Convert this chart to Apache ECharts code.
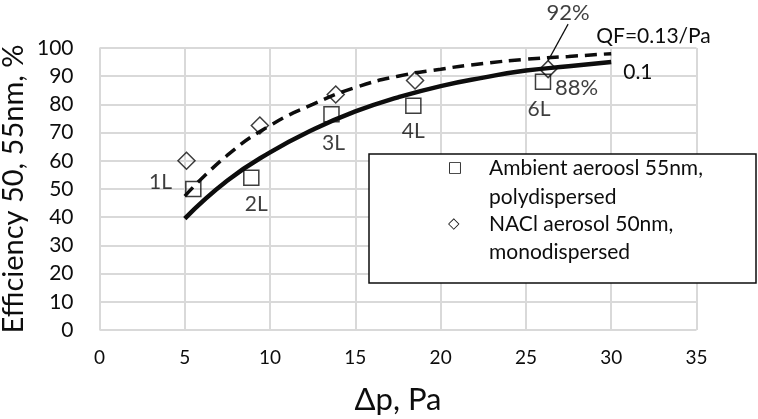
<!DOCTYPE html>
<html>
<head>
<meta charset="utf-8">
<script src="https://cdn.jsdelivr.net/npm/echarts@6/dist/echarts.min.js"></script>
<style>
html,body{margin:0;padding:0;background:#fff;}
#chart{width:758px;height:419px;}
</style>
</head>
<body>
<div id="chart"></div>
<script>
// ---- data ----
const ambientName = 'Ambient aeroosl 55nm, polydispersed';
const naclName = 'NACl aerosol 50nm, monodispersed';
const ambientX = [5.5, 8.9, 13.6, 18.4, 26.0];
const ambientY = [50, 54, 76.5, 79.5, 88];
const ambientLabels = ['1L', '2L', '3L', '4L', '6L'];
const naclX = [5.1, 9.4, 13.85, 18.5, 26.3];
const naclY = [60, 72.5, 83.5, 88.5, 92.5];
const curveX = [5, 7.5, 10, 12.5, 15, 17.5, 20, 22.5, 25, 27.5, 30];
const solidY = [39.5, 53, 63, 71, 77.5, 82.5, 86.5, 89.5, 92, 93.5, 95];
const dashedY = [47.5, 62, 72.5, 80, 86, 90, 92.5, 94.5, 96, 97, 98];
const xTicks = [0, 5, 10, 15, 20, 25, 30, 35];
const yTicks = [0, 10, 20, 30, 40, 50, 60, 70, 80, 90, 100];
const solidTag = '0.1';
const dashedTag = 'QF=0.13/Pa';
const ambientNote = '88%';
const naclNote = '92%';

const FONT = 'Lato';
const INK = '#0d0d0d';

const zip = (xs, ys) => xs.map((x, i) => [x, ys[i]]);

const labelTweaks = [
  {position: 'left', distance: 13, offset: [0, -7]},
  {position: 'bottom', distance: 8, offset: [5, 0]},
  {position: 'bottom', distance: 10, offset: [2, 0]},
  {position: 'bottom', distance: 7, offset: [0, 0]},
  {position: 'bottom', distance: 9, offset: [-4, 0]}
];

const ambientData = zip(ambientX, ambientY).map((p, i) => ({
  value: p,
  label: Object.assign({show: true, formatter: ambientLabels[i]}, labelTweaks[i])
}));
const last = ambientX.length - 1;
const noteData = [{value: [ambientX[last], ambientY[last]]}];
const naclData = zip(naclX, naclY).map((p, i) => (
  i === naclX.length - 1 ? {value: p, label: {show: true, formatter: naclNote}} : {value: p}
));

const labelText = {color: INK, fontFamily: FONT, fontSize: 21};

const legendRich = {
  s: {width: 41, fontFamily: 'DejaVu Sans', fontSize: 15, color: INK, lineHeight: 28.5},
  t: {fontFamily: FONT, fontSize: 21, color: INK, lineHeight: 28.5}
};
function legendFormatter(name) {
  const sym = name === ambientName ? '\u25A1' : '\u25C7';
  const parts = name.split(', ');
  return '{s|' + sym + '}{t|' + parts[0] + ',}\n{s|}{t|' + parts[1] + '}';
}

const chart = echarts.init(document.getElementById('chart'), null, {renderer: 'canvas'});
chart.setOption({
  animation: false,
  backgroundColor: '#fff',
  grid: {left: 99.5, right: 61.5, top: 48, bottom: 89, containLabel: false, outerBoundsMode: 'none'},
  xAxis: {
    type: 'value', min: xTicks[0], max: xTicks[xTicks.length - 1], interval: 5,
    name: '\u0394p, Pa', nameLocation: 'middle', nameGap: 54,
    nameTextStyle: {fontFamily: FONT, fontSize: 31, color: INK},
    axisLine: {show: false}, axisTick: {show: false},
    axisLabel: {fontFamily: FONT, fontSize: 19, color: INK, margin: 18},
    splitLine: {show: true, lineStyle: {color: '#d9d9d9', width: 2}}
  },
  yAxis: {
    type: 'value', min: yTicks[0], max: yTicks[yTicks.length - 1], interval: 10,
    name: 'Efficiency 50, 55nm, %', nameLocation: 'middle', nameGap: 71, nameRotate: 90,
    nameMoveOverlap: false,
    nameTextStyle: {fontFamily: FONT, fontSize: 29, color: INK},
    axisLine: {show: false}, axisTick: {show: false},
    axisLabel: {fontFamily: FONT, fontSize: 21, color: INK, margin: 26},
    splitLine: {show: true, lineStyle: {color: '#d9d9d9', width: 2}}
  },
  graphic: [{
    type: 'rect', z: 10, silent: true,
    shape: {x: 369, y: 154, width: 387, height: 129},
    style: {fill: '#fff', stroke: INK, lineWidth: 1.5}
  }],
  legend: {
    data: [ambientName, naclName],
    orient: 'vertical', left: 369, top: 154, z: 20,
    padding: [4, 10, 4, 73],
    itemGap: 6, itemWidth: 0, itemHeight: 0,
    backgroundColor: 'transparent', borderWidth: 0,
    formatter: legendFormatter,
    textStyle: {rich: legendRich},
    selectedMode: false
  },
  series: [
    {
      name: 'QF 0.1', type: 'line', data: zip(curveX, solidY), smooth: true,
      symbol: 'none', z: 2,
      lineStyle: {color: INK, width: 4.5},
      endLabel: Object.assign({show: true, formatter: solidTag, distance: 12, offset: [0, 10]}, labelText)
    },
    {
      name: 'QF 0.13', type: 'line', data: zip(curveX, dashedY), smooth: true,
      symbol: 'none', z: 2,
      lineStyle: {color: INK, width: 3.5, type: [12, 7]},
      endLabel: Object.assign({show: true, formatter: dashedTag, offset: [-23, -17]}, labelText)
    },
    {
      name: ambientName, type: 'scatter', data: ambientData, symbol: 'rect', symbolSize: 15, z: 3,
      itemStyle: {color: 'rgba(0,0,0,0)', borderColor: INK, borderWidth: 1.5},
      label: Object.assign({show: true}, labelText)
    },
    {
      name: 'note', type: 'scatter', data: noteData, symbolSize: 0, z: 3, silent: true,
      itemStyle: {color: 'rgba(0,0,0,0)'},
      label: Object.assign({show: true, formatter: ambientNote, position: 'right', distance: 12, offset: [0, 6]}, labelText, {fontSize: 22})
    },
    {
      name: naclName, type: 'scatter', data: naclData, symbol: 'diamond', symbolSize: 17, z: 3,
      itemStyle: {color: 'rgba(0,0,0,0)', borderColor: INK, borderWidth: 1.5},
      label: Object.assign({show: false, position: 'inside'}, labelText, {fontSize: 22}),
      labelLayout: function (p) { return p.dataIndex === naclX.length - 1 ? {dx: 20, dy: -56} : {}; },
      labelLine: {show: true, lineStyle: {color: INK, width: 1.2}}
    }
  ]
});
</script>
</body>
</html>
